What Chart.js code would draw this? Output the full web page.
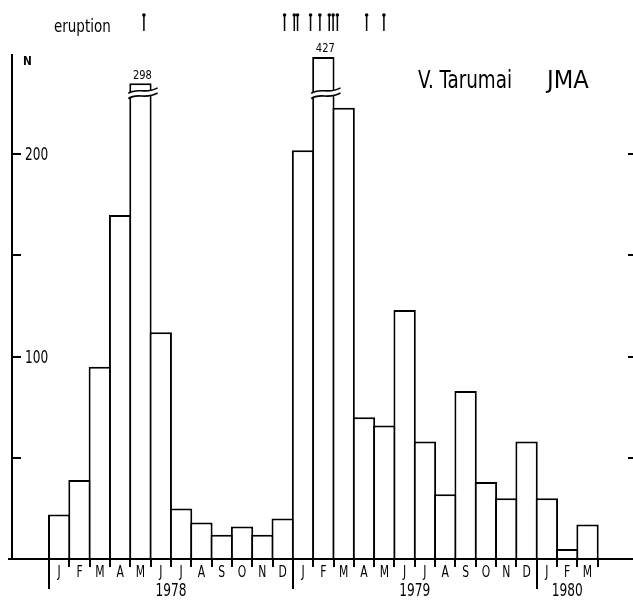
<!DOCTYPE html>
<html><head><meta charset="utf-8">
<script src="https://cdn.jsdelivr.net/npm/chart.js@4.4.1/dist/chart.umd.min.js"></script>
<style>html,body{margin:0;padding:0;background:#fff;} #wrap{width:633px;height:600px;position:relative;}</style>
</head><body><div id="wrap"><canvas id="c" width="633" height="600"></canvas></div>
<script>
// ---- data ----
const monthLabels = ['J','F','M','A','M','J','J','A','S','O','N','D',
                     'J','F','M','A','M','J','J','A','S','O','N','D',
                     'J','F','M'];
const yearLabels = ['1978','1979','1980'];
const yearStartMonth = [0, 12, 24];
const counts = [22, 39, 95, 170, 298, 112, 25, 18, 12, 16, 12, 20,
                202, 427, 223, 70, 66, 123, 58, 32, 83, 38, 30, 58,
                30, 5, 17];
// bars cut by the broken axis: month index -> height shown above the break
const brokenShown = {4: 235, 13: 248};
const breakAt = 230;
// eruptions, in months counted from Jan 1978
const eruptionMonths = [4.67, 11.59, 12.07, 12.23, 12.87, 13.33, 13.79, 13.98, 14.19, 15.63, 16.48];
const yTicks = [0, 50, 100, 150, 200];
const yLabelled = [100, 200];

const FONT = '"DejaVu Sans Condensed","DejaVu Sans",sans-serif';
Chart.defaults.font.family = FONT;

function txt(ctx, s, x, y, size, sx, align, weight){
  ctx.save();
  ctx.font = (weight || 'normal') + ' ' + size + 'px ' + FONT;
  ctx.textBaseline = 'middle';
  ctx.textAlign = align || 'center';
  ctx.fillStyle = '#000';
  ctx.translate(x, y); ctx.scale(sx, 1);
  ctx.fillText(s, 0, 0);
  ctx.restore();
}

const decor = {
  id: 'decor',
  afterDatasetsDraw(chart){
    const {ctx, chartArea: a, scales: {x, y}} = chart;
    ctx.save();
    ctx.strokeStyle = '#000'; ctx.fillStyle = '#000';
    const mw = x.getPixelForValue(1) - x.getPixelForValue(0);
    // axis breaks
    Object.keys(brokenShown).forEach(k => {
      const i = +k;
      const cx = x.getPixelForValue(i + 0.5), hw = mw / 2;
      const yc = y.getPixelForValue(breakAt);
      const x0 = cx - hw - 2, x1 = cx + hw + 7, w = x1 - x0;
      const pts = (off) => [[x0, yc + off + 2.5], [x0 + w*0.3, yc + off - 4], [x0 + w*0.6, yc + off + 4], [x1, yc + off - 3]];
      const t = pts(-2.6), b = pts(2.6);
      ctx.beginPath();
      ctx.moveTo(t[0][0], t[0][1]);
      ctx.bezierCurveTo(t[1][0], t[1][1], t[2][0], t[2][1], t[3][0], t[3][1]);
      ctx.lineTo(b[3][0], b[3][1]);
      ctx.bezierCurveTo(b[2][0], b[2][1], b[1][0], b[1][1], b[0][0], b[0][1]);
      ctx.closePath();
      ctx.fillStyle = '#fff'; ctx.fill();
      ctx.lineWidth = 1.6; ctx.strokeStyle = '#000';
      [t, b].forEach(p => {
        ctx.beginPath(); ctx.moveTo(p[0][0], p[0][1]);
        ctx.bezierCurveTo(p[1][0], p[1][1], p[2][0], p[2][1], p[3][0], p[3][1]);
        ctx.stroke();
      });
      txt(ctx, String(counts[i]), cx + 2, y.getPixelForValue(brokenShown[i]) - 8, 13, 0.85, 'center');
    });
    // baseline
    ctx.lineWidth = 2; ctx.strokeStyle = '#000'; ctx.fillStyle = '#000';
    ctx.beginPath(); ctx.moveTo(a.left - 4, a.bottom); ctx.lineTo(chart.width, a.bottom); ctx.stroke();
    // month tick marks
    for (let m = 0; m <= monthLabels.length; m++){
      const px = Math.round(x.getPixelForValue(m));
      const long = yearStartMonth.includes(m);
      ctx.beginPath(); ctx.moveTo(px, a.bottom); ctx.lineTo(px, a.bottom + (long ? 30 : 8)); ctx.stroke();
    }
    monthLabels.forEach((l, m) => txt(ctx, l, x.getPixelForValue(m + 0.5), a.bottom + 14, 15, 0.8, 'center'));
    yearLabels.forEach((l, k) => {
      const s = yearStartMonth[k], e = Math.min(s + 12, monthLabels.length);
      txt(ctx, l, x.getPixelForValue((s + e) / 2), a.bottom + 32, 18, 0.75, 'center');
    });
    // inward y ticks (left), labels, and right-hand ticks
    yTicks.filter(v => v > 0).forEach(v => {
      const py = Math.round(y.getPixelForValue(v));
      ctx.beginPath(); ctx.moveTo(a.left, py); ctx.lineTo(a.left + 9, py); ctx.stroke();
      ctx.beginPath(); ctx.moveTo(a.right - 2, py); ctx.lineTo(a.right + 3, py); ctx.stroke();
      if (yLabelled.includes(v)) txt(ctx, String(v), a.left + 13, py + 1, 18, 0.75, 'left');
    });
    // eruption markers
    ctx.lineWidth = 1.5;
    eruptionMonths.forEach(t => {
      const px = x.getPixelForValue(t);
      ctx.beginPath(); ctx.moveTo(px, 15); ctx.lineTo(px, 31); ctx.stroke();
      ctx.beginPath(); ctx.arc(px, 15, 1.8, 0, Math.PI * 2); ctx.fill();
    });
    txt(ctx, 'eruption', 54, 28, 17, 0.88, 'left');
    txt(ctx, 'N', 23, 62, 13, 0.9, 'left', 'bold');
    txt(ctx, 'V. Tarumai', 418, 82, 24, 0.85, 'left');
    txt(ctx, 'JMA', 547, 82, 24, 1.05, 'left');
    ctx.restore();
  }
};

const barData = counts.map((v, i) => ({x: i + 0.5, y: (i in brokenShown) ? brokenShown[i] : v}));

new Chart(document.getElementById('c').getContext('2d'), {
  type: 'bar',
  data: {datasets: [{
    data: barData,
    backgroundColor: '#fff',
    borderColor: '#000',
    borderWidth: {top: 2, left: 2, right: 2, bottom: 0},
    borderSkipped: 'start',
    barPercentage: 1.1,
    categoryPercentage: 1
  }]},
  options: {
    responsive: false, animation: false, devicePixelRatio: 1,
    layout: {padding: {top: 55, left: 12, right: 3, bottom: 41}},
    plugins: {legend: {display: false}, tooltip: {enabled: false}},
    scales: {
      x: {type: 'linear', min: -1.821, max: 28.59, offset: false, display: false},
      y: {
        min: 0, max: 249, position: 'left',
        afterBuildTicks: s => { s.ticks = yTicks.map(v => ({value: v})); },
        afterFit: s => { s.width = 0; },
        border: {display: true, color: '#000', width: 2},
        grid: {drawOnChartArea: false, drawTicks: false},
        ticks: {display: false}
      }
    }
  },
  plugins: [decor]
});
</script>
</body></html>
